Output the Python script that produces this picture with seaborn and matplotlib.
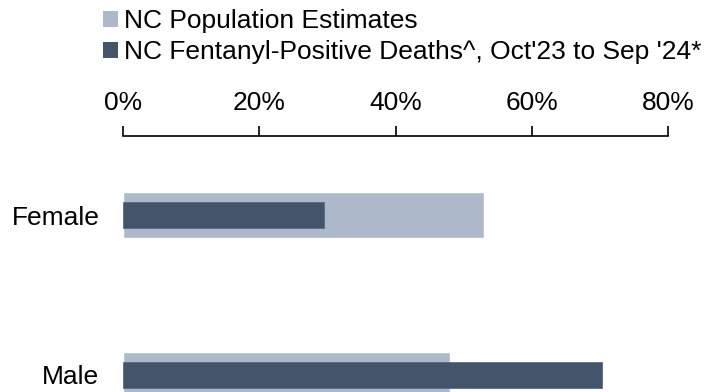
import matplotlib
matplotlib.use("Agg")
import matplotlib.pyplot as plt
import seaborn as sns
from matplotlib.patches import Patch
from matplotlib.ticker import FuncFormatter

categories = ["Female", "Male"]
population_pct = [53.0, 48.0]
deaths_pct = [29.5, 70.3]
series_labels = ["NC Population Estimates",
                 "NC Fentanyl-Positive Deaths^, Oct'23 to Sep '24*"]
light = "#ADB9CA"
dark = "#44546A"

sns.set_theme(style="white")
plt.rcParams['font.family'] = ['Liberation Sans', 'DejaVu Sans']

fig = plt.figure(figsize=(7.04, 3.92), dpi=100)
ax = fig.add_axes([123/704, 0.0, (668-123)/704, (392-136)/392])

sns.barplot(x=population_pct, y=categories, orient="h", color=light,
            width=0.288, ax=ax, saturation=1)
sns.barplot(x=deaths_pct, y=categories, orient="h", color=dark,
            width=0.163, ax=ax, saturation=1, edgecolor="#5a6a82", linewidth=0.6)

ax.set_xlim(0, 80)
ax.set_ylim(1.107, -0.498)
ax.xaxis.tick_top()
ax.set_xticks([0, 20, 40, 60, 80])
ax.xaxis.set_major_formatter(FuncFormatter(lambda v, p: f"{v:.0f}%"))
ax.tick_params(axis="x", direction="out", length=7, width=1.2, color="black",
               labelsize=19, pad=8, top=True, bottom=False, labelcolor="black")
ax.tick_params(axis="y", length=0, labelsize=19, pad=17, labelcolor="black")
for s in ["left", "right", "bottom"]:
    ax.spines[s].set_visible(False)
ax.spines["top"].set_color("black")
ax.spines["top"].set_linewidth(1.2)
ax.set_xlabel("")
ax.set_ylabel("")
ax.grid(False)

handles = [Patch(facecolor=light, edgecolor="none"), Patch(facecolor=dark, edgecolor="none")]
fig.legend(handles, series_labels, loc="upper left", bbox_to_anchor=(103/704, 1 - 9/392),
           frameon=False, fontsize=19, handlelength=0.57, handleheight=0.57,
           handletextpad=0.23, labelspacing=0.27, borderpad=0, borderaxespad=0,
           labelcolor="black")

fig.savefig("out.png", dpi=100)
